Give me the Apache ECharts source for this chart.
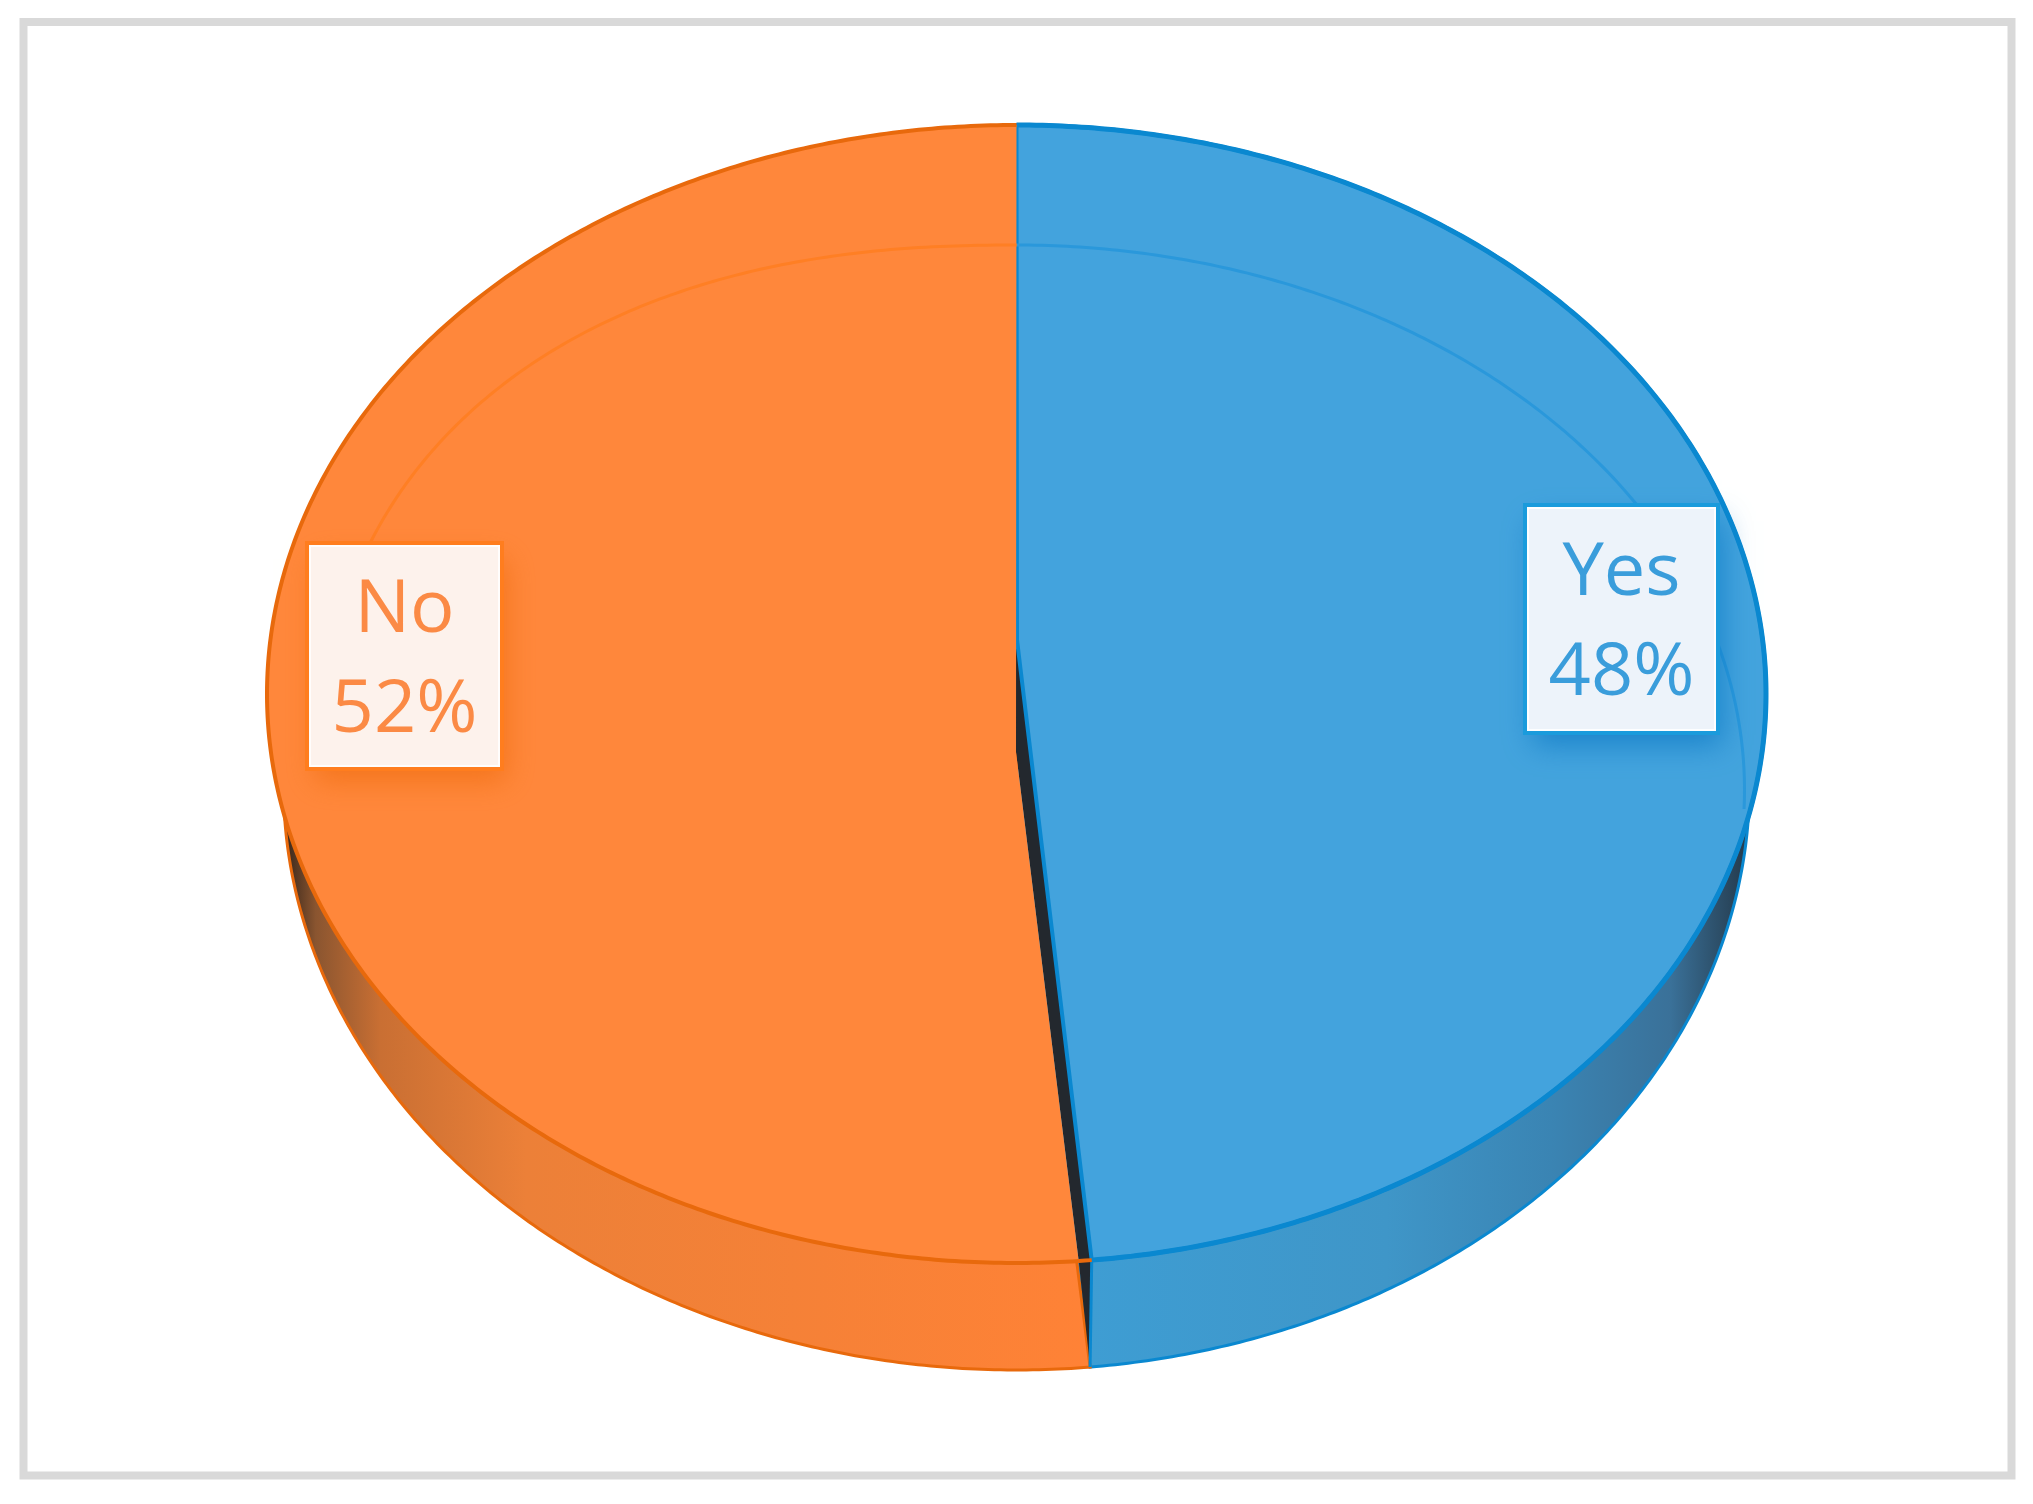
<!DOCTYPE html>
<html>
<head>
<meta charset="utf-8">
<title>Yes / No pie</title>
<style>
	html, body { margin: 0; padding: 0; background: #fff; }
	#chart { width: 2033px; height: 1504px; }
</style>
<script src="https://cdn.jsdelivr.net/npm/echarts@6/dist/echarts.min.js"></script>
</head>
<body>
<div id="chart"></div>
<script>
const categories = ['Yes', 'No']
const shares = [48.4, 51.6]

const fillColors = ['#43a3dd', '#ff873b']
const edgeColors = ['#0a88d0', '#e8690c']
const ringColors = ['#2a98db', '#ff7f24']
const labelFills = ['#edf3fa', '#fdf2ec']
const labelEdges = ['#1a9bdc', '#ff7d1e']
const labelInks = ['#3a9ddb', '#fb8a45']
const labelShadows = ['rgba(0, 110, 190, 0.6)', 'rgba(235, 100, 0, 0.55)']

// wall shading runs left to right, darkest where the wall comes out from under the top
const wallStops = [
	[[0, '#3e9dd3'], [0.45, '#3f96c8'], [0.7, '#3a84b3'], [0.88, '#3a7199'], [1, '#24394a']],
	[[0, '#33241a'], [0.04, '#8a5530'], [0.12, '#c96f33'], [0.3, '#ec8038'], [1, '#ff8236']]
]

const topFace = { cx: 1016.5, cy: 694, rx: 749.5, ry: 569 }
const lowFace = { cx: 1016.5, cy: 785, rx: 733, ry: 585 }
// the orange ring is a bit squarer than a true ellipse
const innerRings = [
	{ cx: 1016.5, cy: 790, rx: 728, ry: 545 },
	{ cx: 1016.5, cy: 790, rx: 698, ry: 545, pow: 2.3 }
]
const ringSweeps = [92, 88]
const blueApex = [1017, 640]
const orangeApex = [1016, 752]
const seamGap = 1

const labelBoxes = [
	{ x: 1527, y: 507, width: 189, height: 224 },
	{ x: 309, y: 545, width: 191, height: 222 }
]

const total = shares.reduce((a, b) => a + b, 0)
const sliceEnds = []
shares.reduce((sum, v, i) => (sliceEnds[i] = sum + v / total * 360), 0)

function rimPoint(e, deg) {
	const t = deg * Math.PI / 180
	const k = 2 / (e.pow || 2)
	const s = Math.sin(t)
	const c = Math.cos(t)
	return [
		e.cx + e.rx * Math.sign(s) * Math.pow(Math.abs(s), k),
		e.cy - e.ry * Math.sign(c) * Math.pow(Math.abs(c), k)
	]
}

function arc(e, from, to) {
	const pts = []
	const n = Math.ceil(Math.abs(to - from) * 2)
	for (let i = 0; i <= n; i++) {
		pts.push(rimPoint(e, from + (to - from) * i / n))
	}
	return pts
}

function sliceStart(i) {
	return i === 0 ? 0 : sliceEnds[i - 1]
}

function renderWall(params, api) {
	const i = api.value(1)
	const pts = arc(lowFace, sliceStart(i), sliceEnds[i])
	pts.unshift([lowFace.cx, lowFace.cy])
	const seamX = rimPoint(lowFace, sliceEnds[0])[0]
	const left = i === 0 ? seamX : lowFace.cx - lowFace.rx
	const right = i === 0 ? lowFace.cx + lowFace.rx : seamX
	return {
		type: 'polygon',
		shape: { points: pts },
		style: {
			fill: new echarts.graphic.LinearGradient(left, 0, right, 0, wallStops[i].map(s => ({ offset: s[0], color: s[1] })), true),
			stroke: edgeColors[i],
			lineWidth: 3
		}
	}
}

function renderGap() {
	const seamTop = rimPoint(topFace, sliceEnds[0])
	const seamLow = rimPoint(lowFace, sliceEnds[0])
	return {
		type: 'group',
		children: [{
			type: 'polygon',
			shape: {
				points: [
					blueApex,
					seamTop,
					seamLow,
					rimPoint(topFace, sliceEnds[0] + seamGap),
					orangeApex,
					[orangeApex[0], blueApex[1]]
				]
			},
			style: { fill: '#23282e' }
		}, {
			type: 'line',
			shape: { x1: seamTop[0], y1: seamTop[1], x2: seamLow[0], y2: seamLow[1] },
			style: { stroke: edgeColors[0], lineWidth: 3 }
		}]
	}
}

function renderFace(params, api) {
	const i = api.value(1)
	const from = i === 0 ? 0 : sliceEnds[0] + seamGap
	const pts = arc(topFace, from, sliceEnds[i])
	pts.unshift(i === 0 ? blueApex : orangeApex)
	const ringFrom = i === 0 ? 0 : 360 - ringSweeps[i]
	const ringTo = i === 0 ? ringSweeps[i] : 360
	const children = [{
		type: 'polygon',
		shape: { points: pts },
		style: i === 0 ? { fill: fillColors[i], stroke: edgeColors[i], lineWidth: 4 } : { fill: fillColors[i] }
	}, {
		type: 'polyline',
		shape: { points: arc(innerRings[i], ringFrom, ringTo) },
		style: { fill: null, stroke: ringColors[i], lineWidth: 3 }
	}, {
		type: 'polyline',
		shape: { points: arc(topFace, sliceStart(i), sliceEnds[i]) },
		style: { fill: null, stroke: edgeColors[i], lineWidth: i === 0 ? 5 : 4 }
	}]
	return { type: 'group', children: children }
}

function renderLabel(params, api) {
	const i = api.value(1)
	const box = labelBoxes[i]
	return {
		type: 'group',
		children: [{
			type: 'rect',
			shape: box,
			style: {
				fill: labelEdges[i],
				shadowBlur: 28,
				shadowOffsetX: 6,
				shadowOffsetY: 14,
				shadowColor: labelShadows[i]
			}
		}, {
			type: 'rect',
			shape: { x: box.x - 2, y: box.y - 2, width: box.width + 4, height: box.height + 4 },
			style: { fill: labelFills[i], stroke: labelEdges[i], lineWidth: 4 }
		}, {
			type: 'rect',
			shape: { x: box.x + 1, y: box.y + 1, width: box.width - 2, height: box.height - 2 },
			style: { fill: null, stroke: '#fff', lineWidth: 2, opacity: 0.85 }
		}, {
			type: 'text',
			style: {
				text: categories[i] + '\n' + Math.round(api.value(0) / total * 100) + '%',
				x: box.x + box.width / 2,
				y: box.y + box.height / 2 + 5,
				align: 'center',
				verticalAlign: 'middle',
				fontFamily: 'Open Sans',
				fontSize: 74,
				lineHeight: 100,
				fill: labelInks[i]
			}
		}]
	}
}

const rows = categories.map((name, i) => [shares[i], i])

const chart = echarts.init(document.getElementById('chart'))
chart.setOption({
	animation: false,
	backgroundColor: '#fff',
	graphic: [{
		type: 'rect',
		z: 0,
		shape: { x: 23.5, y: 22, width: 1988, height: 1453.5 },
		style: { fill: '#fff', stroke: '#d9d9d9', lineWidth: 8 }
	}],
	series: [
		{ type: 'custom', coordinateSystem: 'none', z: 2, silent: true, data: rows, renderItem: renderWall },
		{ type: 'custom', coordinateSystem: 'none', z: 3, silent: true, data: [rows[0]], renderItem: renderGap },
		{ type: 'custom', coordinateSystem: 'none', z: 4, silent: true, data: rows, renderItem: renderFace },
		{ type: 'custom', coordinateSystem: 'none', z: 5, silent: true, data: rows, renderItem: renderLabel }
	]
})
</script>
</body>
</html>
